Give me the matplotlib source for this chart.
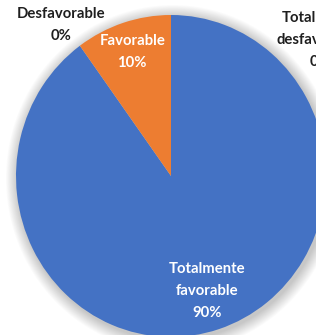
import numpy as np
import matplotlib.pyplot as plt
from matplotlib.patches import Circle

categorias = ['Totalmente\nfavorable', 'Favorable', 'Desfavorable', 'Totalmente\ndesfavorable']
porcentajes = [90, 10, 0, 0]
colores = ['#4472C4', '#ED7D31', '#A5A5A5', '#FFC000']

plt.rcParams['font.family'] = ['Lato', 'DejaVu Sans']

fig = plt.figure(figsize=(3.16, 3.35), dpi=100)
ax = fig.add_axes([0, 0, 1, 1])

# sombra difusa alrededor del círculo
for i in range(14):
    r = 1.0 + 0.0055 * (14 - i)
    ax.add_patch(Circle((0.012, -0.015), r, color='black', alpha=0.014, lw=0, zorder=0))

wedges, _ = ax.pie(porcentajes, colors=colores, startangle=90, counterclock=False,
                   radius=1.0, wedgeprops=dict(linewidth=0))
for w in wedges:
    w.set_zorder(2)

estilo = dict(ha='center', va='center', fontsize=10.7, fontweight='bold',
              linespacing=1.75, zorder=3)

# etiquetas dentro de las porciones no vacías
distancias = [0.75, 0.81]
for w, cat, p, d in zip(wedges, categorias, porcentajes, distancias):
    ang = np.deg2rad((w.theta1 + w.theta2) / 2)
    ax.text(d * np.cos(ang), d * np.sin(ang), f'{cat}\n{p}%', color='white', **estilo)

# etiquetas de porciones en 0 %
ax.text(-0.71, 0.94, f'{categorias[2]}\n{porcentajes[2]}%', color='#1f1f1f', **estilo)
ax.text(0.96, 0.845, f'{categorias[3]}\n{porcentajes[3]}%', color='#1f1f1f', **estilo)

# el círculo se ve algo estirado en vertical: 155 px de ancho por 161 px de alto
ax.set_xlim(-171 / 155, 145 / 155)
ax.set_ylim(-159 / 161, 176 / 161)
ax.set_aspect('auto')
ax.axis('off')

fig.savefig('out.png', dpi=100, facecolor='white')
